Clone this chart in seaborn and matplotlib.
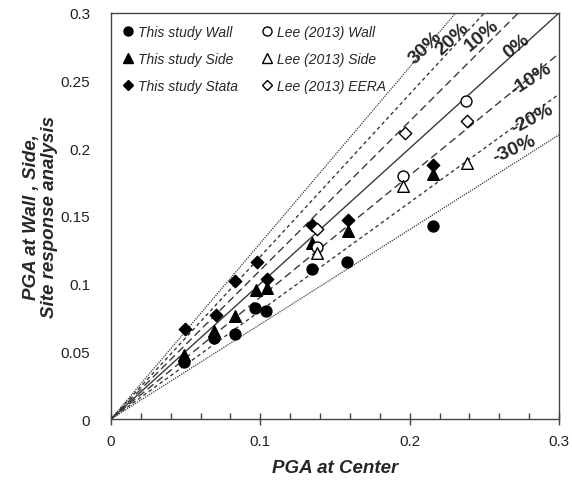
import matplotlib
matplotlib.use("Agg")
import matplotlib.pyplot as plt
from matplotlib.ticker import FixedLocator, MultipleLocator, FuncFormatter
from matplotlib.lines import Line2D
import seaborn as sns
import pandas as pd

# PGA at center vs. PGA at wall / side / site-response analysis
wall_x = [0.049, 0.069, 0.083, 0.0965, 0.1036, 0.1344, 0.1583, 0.2159]
wall_y = [0.042, 0.060, 0.063, 0.082, 0.080, 0.111, 0.116, 0.1425]
side_x = [0.049, 0.069, 0.0833, 0.0971, 0.1047, 0.1344, 0.159, 0.2159]
side_y = [0.047, 0.065, 0.0763, 0.0956, 0.0968, 0.130, 0.1388, 0.1807]
stata_x = [0.0496, 0.0701, 0.0831, 0.098, 0.1043, 0.1344, 0.159, 0.2159]
stata_y = [0.0664, 0.0765, 0.1022, 0.1158, 0.1035, 0.143, 0.1474, 0.1874]
lee_wall_x = [0.138, 0.1958, 0.2378]
lee_wall_y = [0.127, 0.1795, 0.235]
lee_side_x = [0.138, 0.1958, 0.2387]
lee_side_y = [0.123, 0.1725, 0.1889]
lee_eera_x = [0.138, 0.1969, 0.2387]
lee_eera_y = [0.1405, 0.2116, 0.2202]

series_names = ["This study Wall", "This study Side", "This study Stata",
                "Lee (2013) Wall", "Lee (2013) Side", "Lee (2013) EERA"]

# deviation lines y = (1 + p) x
pcts = [30, 20, 10, 0, -10, -20, -30]
pct_labels = ["30%", "20%", "10%", "0%", "-10%", "-20%", "-30%"]

xticks = [0, 0.1, 0.2, 0.3]
yticks = [0, 0.05, 0.1, 0.15, 0.2, 0.25, 0.3]

sns.set_theme(style="white")
plt.rcParams["font.family"] = ["Liberation Sans", "DejaVu Sans"]

fig = plt.figure(figsize=(5.72, 4.81), dpi=100)
ax = fig.add_axes([111 / 572, 1 - 420 / 481, 448 / 572, 406 / 481])

line_col = "#3a3a3a"
dash_styles = {30: (0, (1.0, 0.9)), 20: (0, (2.6, 2.2)), 10: (0, (5.5, 3.0)), 0: "-"}
line_x = [0.0, 0.3]
for p in pcts:
    ls = dash_styles[abs(p)]
    lw = 0.9 if abs(p) == 30 else 1.0
    df_line = pd.DataFrame({"x": line_x, "y": [v * (1 + p / 100) for v in line_x]})
    sns.lineplot(data=df_line, x="x", y="y", ax=ax, color=line_col, lw=lw,
                 linestyle=ls, zorder=1, legend=False)

# marker styles per series
styles = [
    ("o", 62, "black"), ("^", 70, "black"), ("D", 40, "black"),
    ("o", 62, "white"), ("^", 70, "white"), ("D", 40, "white"),
]
xs = [wall_x, side_x, stata_x, lee_wall_x, lee_side_x, lee_eera_x]
ys = [wall_y, side_y, stata_y, lee_wall_y, lee_side_y, lee_eera_y]
for name, x, y, (mk, s, fc) in zip(series_names, xs, ys, styles):
    df = pd.DataFrame({"x": x, "y": y})
    sns.scatterplot(data=df, x="x", y="y", ax=ax, marker=mk, s=s,
                    facecolor=fc, edgecolor="black", linewidth=1.0, zorder=3,
                    legend=False)

ax.set_xlim(0, 0.3)
ax.set_ylim(0, 0.3)

# percentage labels along the lines
label_pos = [(0.2105, 0.2745, 44), (0.2285, 0.2815, 43), (0.2485, 0.2840, 40),
             (0.2715, 0.2755, 38), (0.2810, 0.2510, 33), (0.2820, 0.2225, 28),
             (0.2700, 0.2000, 24)]
for lab, (tx, ty, rot) in zip(pct_labels, label_pos):
    ax.text(tx, ty, lab, fontsize=14, fontweight="bold", rotation=rot,
            ha="center", va="center", rotation_mode="anchor", zorder=4)

# axes frame and ticks
for sp in ax.spines.values():
    sp.set_color("#444444")
    sp.set_linewidth(1.0)
    sp.set_visible(True)
ax.xaxis.set_major_locator(FixedLocator(xticks))
ax.xaxis.set_minor_locator(MultipleLocator(0.02))
ax.yaxis.set_major_locator(FixedLocator(yticks))
fmt = FuncFormatter(lambda v, _: "%g" % round(v, 3))
ax.xaxis.set_major_formatter(fmt)
ax.yaxis.set_major_formatter(fmt)
ax.tick_params(axis="x", which="major", direction="inout", length=9, width=1,
               color="#444444", labelsize=11, pad=6, bottom=True)
ax.tick_params(axis="x", which="minor", direction="in", length=4, width=1,
               color="#444444", bottom=True)
ax.tick_params(axis="y", which="both", length=0, labelsize=11, pad=15)
for t in ax.get_xticklabels() + ax.get_yticklabels():
    t.set_color("#222222")

ax.set_xlabel("PGA at Center", fontsize=13.5, fontweight="bold",
              fontstyle="italic", labelpad=8)
ax.set_ylabel("PGA at Wall , Side,\nSite response analysis", fontsize=13.5,
              fontweight="bold", fontstyle="italic", labelpad=2,
              linespacing=1.08)

handles = []
for name, (mk, s, fc) in zip(series_names, styles):
    handles.append(Line2D([], [], linestyle="none", marker=mk,
                          markersize=6.5 if mk != "D" else 5.2,
                          markerfacecolor=fc, markeredgecolor="black",
                          markeredgewidth=1.0, label=name))
ax.legend(handles=handles, ncol=2, loc="upper left", frameon=False,
          prop={"style": "italic", "size": 10}, handletextpad=0.25,
          columnspacing=1.55, labelspacing=0.95, handlelength=1.0,
          borderaxespad=0.0, bbox_to_anchor=(0.01, 0.985))

fig.savefig("out.png", dpi=100)
